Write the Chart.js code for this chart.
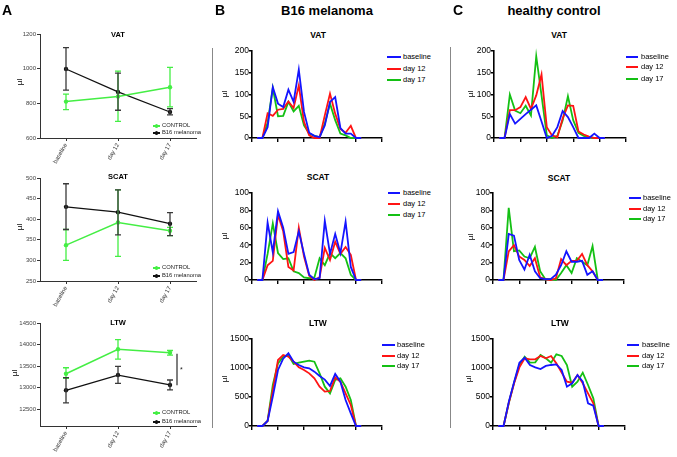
<!DOCTYPE html>
<html>
<head>
<meta charset="utf-8">
<script src="https://cdn.jsdelivr.net/npm/chart.js@4.4.0/dist/chart.umd.min.js"></script>
<style>
body { margin: 0; background: #fff; font-family: "Liberation Sans", Arial, sans-serif; }
#fig { position: relative; width: 677px; height: 457px; overflow: hidden; background: #fff; }
canvas { position: absolute; }
.t { position: absolute; white-space: nowrap; color: #000; line-height: 1; transform: translate(-50%, -50%); }
.l { transform: translate(0, -50%); }
.yl { transform: translate(-50%, -50%) rotate(-90deg); font-size: 8px; }
.head { font-weight: bold; font-size: 13px; }
.letter { font-weight: bold; font-size: 14px; }
.title { font-weight: bold; font-size: 8.5px; }
.atitle { font-weight: bold; font-size: 7.5px; }
.leg { font-size: 7.5px; }
.aleg { font-size: 5.8px; color: #222; }
.bar { position: absolute; }
</style>
</head>
<body>
<div id="fig"></div>
<script>
// ---- panel A: group means over time, with error bar ends ----
const timepoints = ['baseline', 'day 12', 'day 17'];
const groups = ['CONTROL', 'B16 melanoma'];

const vatTicks = [600, 800, 1000, 1200];
const vatControl = [810, 840, 893];
const vatControlLo = [764, 696, 779];
const vatControlHi = [853, 986, 1007];
const vatB16 = [998, 866, 750];
const vatB16Lo = [876, 760, 733];
const vatB16Hi = [1121, 974, 770];

const scatTicks = [250, 300, 350, 400, 450, 500];
const scatControl = [337, 392, 372];
const scatControlLo = [300, 310, 360];
const scatControlHi = [375, 471, 380];
const scatB16 = [430, 417, 389];
const scatB16Lo = [375, 362, 360];
const scatB16Hi = [486, 471, 416];

const ltwTicks = [12500, 13000, 13500, 14000, 14500];
const ltwControl = [13323, 13892, 13808];
const ltwControlLo = [13215, 13662, 13754];
const ltwControlHi = [13462, 14115, 13862];
const ltwB16 = [12938, 13292, 13062];
const ltwB16Lo = [12646, 13100, 12946];
const ltwB16Hi = [13231, 13492, 13177];
const ltwSig = [13054, 13788];

// ---- panels B and C: volume distributions per bin ----
const stages = ['baseline', 'day 12', 'day 17'];
const bins = [1, 2, 3, 4, 5, 6, 7, 8, 9, 10, 11, 12, 13, 14, 15, 16, 17, 18, 19, 20, 21];
const binTicks = [0, 5, 10, 15, 20, 25];
const distVatTicks = [0, 50, 100, 150, 200];
const distScatTicks = [0, 20, 40, 60, 80, 100];
const distLtwTicks = [0, 500, 1000, 1500];

const b16VatBaseline = [0, 0, 25, 117, 79, 71, 111, 83, 157, 60, 12, 5, 2, 29, 83, 94, 23, 10, 10, 0, 0];
const b16VatDay12 = [0, 0, 57, 51, 65, 67, 84, 69, 121, 37, 6, 0, 0, 52, 102, 56, 21, 12, 28, 0, 0];
const b16VatDay17 = [0, 0, 35, 115, 50, 51, 83, 61, 74, 29, 10, 5, 2, 33, 79, 41, 10, 6, 0, 0, 0];

const b16ScatBaseline = [0, 0, 66, 32, 79, 60, 30, 32, 56, 30, 6, 1, 2, 68, 30, 53, 31, 67, 15, 0, 0];
const b16ScatDay12 = [0, 0, 17, 22, 75, 56, 15, 11, 60, 27, 5, 0, 3, 37, 23, 44, 30, 38, 29, 0, 0];
const b16ScatDay17 = [0, 0, 30, 65, 31, 24, 25, 10, 8, 3, 2, 3, 25, 17, 31, 25, 31, 25, 6, 0, 0];

const b16LtwBaseline = [0, 0, 86, 506, 966, 1160, 1253, 1109, 1052, 1011, 994, 937, 862, 800, 690, 897, 764, 448, 218, 0, 0];
const b16LtwDay12 = [0, 0, 86, 620, 1138, 1224, 1195, 1109, 1011, 966, 908, 822, 678, 592, 603, 839, 764, 563, 362, 0, 0];
const b16LtwDay17 = [0, 0, 90, 707, 1080, 1195, 1224, 1069, 1092, 1109, 1126, 1109, 908, 678, 563, 793, 822, 678, 448, 0, 0];

const ctlVatBaseline = [0, 0, 55, 33, 44, 55, 65, 75, 38, 0, 5, 25, 62, 48, 25, 0, 0, 0, 10, 0, 0];
const ctlVatDay12 = [0, 0, 64, 64, 71, 94, 67, 98, 146, 25, 6, 2, 45, 75, 74, 15, 8, 3, 0, 0, 0];
const ctlVatDay17 = [0, 0, 100, 63, 57, 74, 52, 188, 98, 6, 0, 5, 40, 96, 41, 12, 5, 2, 0, 0, 0];

const ctlScatBaseline = [0, 0, 53, 51, 23, 12, 29, 10, 2, 1, 1, 6, 17, 33, 21, 21, 22, 6, 10, 0, 0];
const ctlScatDay12 = [0, 0, 33, 40, 27, 23, 16, 25, 3, 1, 0, 2, 24, 17, 22, 22, 30, 17, 10, 0, 0];
const ctlScatDay17 = [0, 0, 83, 33, 34, 27, 25, 38, 10, 1, 1, 0, 8, 17, 8, 25, 21, 17, 39, 0, 0];

const ctlLtwBaseline = [0, 0, 420, 760, 1090, 1178, 1052, 1011, 983, 1035, 1052, 1063, 966, 678, 736, 879, 764, 391, 350, 0, 0];
const ctlLtwDay12 = [0, 0, 400, 736, 1011, 1167, 1149, 1149, 1207, 1167, 1207, 1080, 920, 764, 747, 879, 736, 563, 391, 0, 0];
const ctlLtwDay17 = [0, 0, 400, 750, 1052, 1195, 1092, 1098, 1224, 1167, 1092, 1236, 1207, 1052, 678, 764, 920, 707, 477, 0, 0];

const GREEN_A = '#44ee44';
const BLACK_A = '#111111';
const stageColors = ['#1414ff', '#ff1414', '#14c014'];

Chart.defaults.font.family = "'Liberation Sans', Arial, sans-serif";
const fig = document.getElementById('fig');

function txt(s, x, y, cls) {
  const d = document.createElement('div');
  d.className = 't ' + cls;
  d.textContent = s;
  d.style.left = x + 'px';
  d.style.top = y + 'px';
  fig.appendChild(d);
  return d;
}

function rect(x, y, w, h, color, round) {
  const d = document.createElement('div');
  d.className = 'bar';
  d.style.left = x + 'px';
  d.style.top = y + 'px';
  d.style.width = w + 'px';
  d.style.height = h + 'px';
  d.style.background = color;
  if (round) d.style.borderRadius = '50%';
  fig.appendChild(d);
}

function addCanvas(plot, pad) {
  const c = document.createElement('canvas');
  const w = plot.r - plot.l + pad.l + pad.r;
  const h = plot.b - plot.t + pad.t + pad.b;
  c.width = w;
  c.height = h;
  c.style.left = (plot.l - pad.l) + 'px';
  c.style.top = (plot.t - pad.t) + 'px';
  c.style.width = w + 'px';
  c.style.height = h + 'px';
  fig.appendChild(c);
  return c;
}

const setTicks = list => scale => { scale.ticks = list.map(v => ({ value: v })); };

// error bars and the significance bracket for panel A
const errorBars = {
  id: 'errorBars',
  afterDatasetsDraw(chart, args, opts) {
    const ctx = chart.ctx;
    const y = chart.scales.y;
    chart.data.datasets.forEach((ds, di) => {
      const meta = chart.getDatasetMeta(di);
      ctx.save();
      ctx.strokeStyle = ds.errColor;
      ctx.lineWidth = 1.3;
      meta.data.forEach((pt, i) => {
        const yl = y.getPixelForValue(ds.lo[i]);
        const yh = y.getPixelForValue(ds.hi[i]);
        ctx.beginPath();
        ctx.moveTo(pt.x, yl); ctx.lineTo(pt.x, yh);
        ctx.moveTo(pt.x - 3, yl); ctx.lineTo(pt.x + 3, yl);
        ctx.moveTo(pt.x - 3, yh); ctx.lineTo(pt.x + 3, yh);
        ctx.stroke();
      });
      ctx.restore();
    });
    if (opts && opts.sig) {
      const x = chart.scales.x.getPixelForValue(2) + 7;
      const y1 = y.getPixelForValue(opts.sig[0]);
      const y2 = y.getPixelForValue(opts.sig[1]);
      ctx.save();
      ctx.strokeStyle = '#555';
      ctx.lineWidth = 1.5;
      ctx.beginPath();
      ctx.moveTo(x, y1); ctx.lineTo(x, y2);
      ctx.stroke();
      ctx.fillStyle = '#222';
      ctx.font = '7px "Liberation Sans", Arial';
      ctx.textAlign = 'left';
      ctx.textBaseline = 'middle';
      ctx.fillText('*', x + 3, (y1 + y2) / 2 + 1);
      ctx.restore();
    }
  }
};

function timeChart(plot, ticks, yMin, control, b16, sig) {
  const pad = { l: 30, r: 6, t: 6, b: 40 };
  const c = addCanvas(plot, pad);
  new Chart(c, {
    type: 'line',
    data: {
      labels: timepoints,
      datasets: [
        { label: groups[0], data: control[0], lo: control[1], hi: control[2], errColor: GREEN_A,
          borderColor: GREEN_A, backgroundColor: GREEN_A, borderWidth: 1.5, pointRadius: 2.2, pointBorderWidth: 0 },
        { label: groups[1], data: b16[0], lo: b16[1], hi: b16[2], errColor: '#3a3a3a',
          borderColor: BLACK_A, backgroundColor: BLACK_A, borderWidth: 1.3, pointRadius: 2.2, pointBorderWidth: 0 }
      ]
    },
    options: {
      responsive: false,
      animation: false,
      layout: { padding: { top: pad.t, right: pad.r, left: 0, bottom: 0 } },
      plugins: { legend: { display: false }, tooltip: { enabled: false }, errorBars: { sig: sig } },
      scales: {
        x: {
          offset: true,
          grid: { drawOnChartArea: false, offset: false, tickLength: 3, color: '#333' },
          border: { color: '#333', width: 1 },
          ticks: { minRotation: 60, maxRotation: 60, font: { size: 6 }, color: '#333', padding: 1 },
          afterFit: s => { s.height = pad.b; }
        },
        y: {
          min: yMin,
          max: ticks[ticks.length - 1],
          afterBuildTicks: setTicks(ticks),
          grid: { drawOnChartArea: false, tickLength: 3, color: '#333' },
          border: { color: '#333', width: 1 },
          ticks: { font: { size: 6 }, color: '#444', padding: 1, callback: v => String(v) },
          afterFit: s => { s.width = pad.l; }
        }
      }
    },
    plugins: [errorBars]
  });
}

function distChart(plot, ticks, series) {
  const pad = { l: 26, r: 4, t: 6, b: 8 };
  const c = addCanvas(plot, pad);
  new Chart(c, {
    type: 'line',
    data: {
      datasets: series.map((vals, i) => ({
        label: stages[i],
        data: bins.map((b, j) => ({ x: b, y: vals[j] })),
        borderColor: stageColors[i],
        borderWidth: 1.8,
        pointRadius: 0,
        tension: 0,
        clip: 4
      }))
    },
    options: {
      responsive: false,
      animation: false,
      layout: { padding: { top: pad.t, right: pad.r, left: 0, bottom: 0 } },
      plugins: { legend: { display: false }, tooltip: { enabled: false } },
      scales: {
        x: {
          type: 'linear',
          min: binTicks[0],
          max: binTicks[binTicks.length - 1],
          afterBuildTicks: setTicks(binTicks),
          grid: { drawOnChartArea: false, tickLength: 4, color: '#000', lineWidth: 1.4 },
          border: { color: '#000', width: 1.6 },
          ticks: { display: false },
          afterFit: s => { s.height = pad.b; }
        },
        y: {
          min: ticks[0],
          max: ticks[ticks.length - 1],
          afterBuildTicks: setTicks(ticks),
          grid: { drawOnChartArea: false, tickLength: 3, color: '#000', lineWidth: 1.4 },
          border: { color: '#000', width: 1.6 },
          ticks: { font: { size: 8.5 }, color: '#000', padding: 0, callback: v => String(v) },
          afterFit: s => { s.width = pad.l; }
        }
      }
    }
  });
}

function distLegend(lx1, lx2, tx, ys) {
  stages.forEach((s, i) => {
    rect(lx1, ys[i] - 1, lx2 - lx1, 2, stageColors[i]);
    txt(s, tx, ys[i], 'leg l');
  });
}

function timeLegend(y1, y2) {
  [[groups[0], GREEN_A, y1], [groups[1], BLACK_A, y2]].forEach(([s, col, y]) => {
    rect(153, y - 0.6, 7, 1.2, col);
    rect(155, y - 1.7, 3.4, 3.4, col, true);
    txt(s, 162, y, 'aleg l');
  });
}

// ---- panel A ----
timeChart({ l: 40, r: 196, t: 34, b: 138 }, vatTicks, 600,
  [vatControl, vatControlLo, vatControlHi], [vatB16, vatB16Lo, vatB16Hi], null);
timeChart({ l: 40, r: 196, t: 178, b: 281 }, scatTicks, 250,
  [scatControl, scatControlLo, scatControlHi], [scatB16, scatB16Lo, scatB16Hi], null);
timeChart({ l: 40, r: 196, t: 323, b: 426 }, ltwTicks, 12110,
  [ltwControl, ltwControlLo, ltwControlHi], [ltwB16, ltwB16Lo, ltwB16Hi], ltwSig);

txt('VAT', 118, 35, 'atitle');
txt('SCAT', 118, 177, 'atitle');
txt('LTW', 118, 323, 'atitle');
txt('µl', 20, 82, 'yl');
txt('µl', 20, 227, 'yl');
txt('µl', 15, 373, 'yl');
timeLegend(126, 133);
timeLegend(268, 276);
timeLegend(413, 422);

// ---- panel B ----
distChart({ l: 252, r: 382, t: 51, b: 138 }, distVatTicks, [b16VatBaseline, b16VatDay12, b16VatDay17]);
distChart({ l: 252, r: 382, t: 193, b: 280 }, distScatTicks, [b16ScatBaseline, b16ScatDay12, b16ScatDay17]);
distChart({ l: 252, r: 382, t: 339, b: 426 }, distLtwTicks, [b16LtwBaseline, b16LtwDay12, b16LtwDay17]);
txt('VAT', 318, 35, 'title');
txt('SCAT', 318, 177, 'title');
txt('LTW', 318, 323, 'title');
txt('µl', 225, 94, 'yl');
txt('µl', 225, 236, 'yl');
txt('µl', 225, 379, 'yl');
distLegend(387, 401, 403, [57, 69, 80]);
distLegend(388, 400, 403, [193, 204, 215]);
distLegend(382, 395, 397, [345, 356, 366]);

// ---- panel C ----
distChart({ l: 494, r: 626, t: 51, b: 138 }, distVatTicks, [ctlVatBaseline, ctlVatDay12, ctlVatDay17]);
distChart({ l: 493, r: 624, t: 193, b: 280 }, distScatTicks, [ctlScatBaseline, ctlScatDay12, ctlScatDay17]);
distChart({ l: 493, r: 625, t: 339, b: 426 }, distLtwTicks, [ctlLtwBaseline, ctlLtwDay12, ctlLtwDay17]);
txt('VAT', 559, 35, 'title');
txt('SCAT', 559, 178, 'title');
txt('LTW', 560, 323, 'title');
txt('µl', 471, 94, 'yl');
txt('µl', 471, 237, 'yl');
txt('µl', 469, 379, 'yl');
distLegend(626, 638, 641, [57, 67, 79]);
distLegend(629, 641, 643, [198, 209, 219]);
distLegend(627, 639, 642, [345, 356, 366]);

// ---- headings and dividers ----
txt('A', 2, 10, 'letter l');
txt('B', 215, 10, 'letter l');
txt('C', 453, 10, 'letter l');
txt('B16 melanoma', 327, 10, 'head');
txt('healthy control', 554, 10, 'head');
rect(212, 48, 1, 380, '#888');
rect(450, 47, 1, 381, '#888');
</script>
</body>
</html>
